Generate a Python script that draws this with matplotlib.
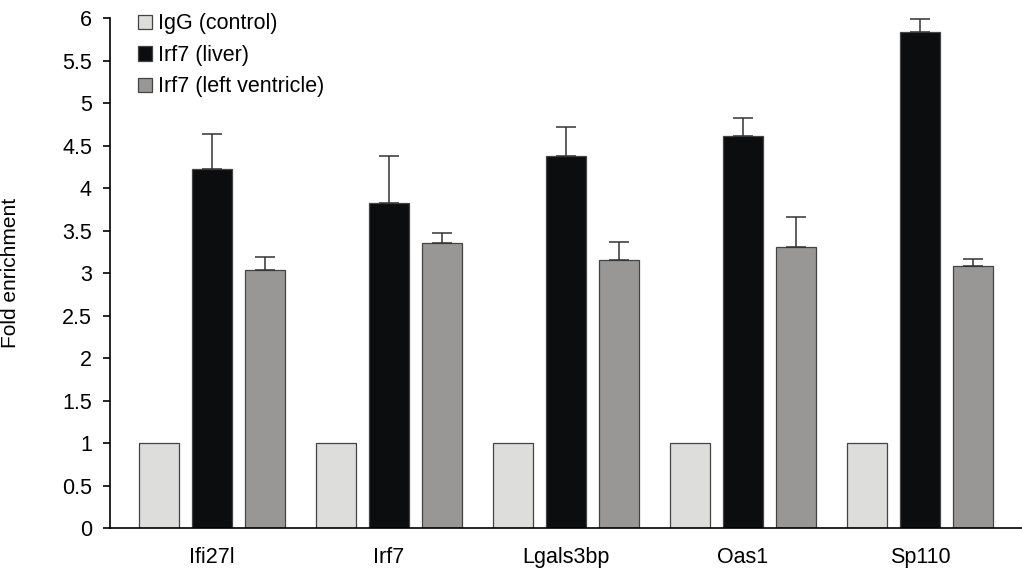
import numpy as np
import matplotlib.pyplot as plt

plt.rcParams['font.family'] = ['Liberation Sans', 'DejaVu Sans']

genes = ['Ifi27l', 'Irf7', 'Lgals3bp', 'Oas1', 'Sp110']
series = ['IgG (control)', 'Irf7 (liver)', 'Irf7 (left ventricle)']

igg = [1, 1, 1, 1, 1]
liver = [4.22, 3.82, 4.38, 4.61, 5.84]
liver_err = [0.41, 0.56, 0.34, 0.21, 0.15]
ventricle = [3.03, 3.35, 3.15, 3.31, 3.08]
ventricle_err = [0.16, 0.12, 0.21, 0.35, 0.08]

colors = ['#dddddc', '#0c0d0f', '#989795']

fig = plt.figure(figsize=(10.22, 5.68), dpi=100)
ax = fig.add_axes([0.1076, 0.0704, 0.8924, 0.8979])

x = np.arange(len(genes))
w = 0.226
off = 0.299
err_kw = dict(ecolor='#333333', elinewidth=1.1, capsize=7, capthick=1.1)

ax.bar(x - off, igg, w, color=colors[0], edgecolor='#444444', linewidth=0.9, label=series[0])
ax.bar(x, liver, w, color=colors[1], edgecolor='#444444', linewidth=0.9, label=series[1],
       yerr=[np.zeros(len(x)), liver_err], error_kw=err_kw)
ax.bar(x + off, ventricle, w, color=colors[2], edgecolor='#444444', linewidth=0.9, label=series[2],
       yerr=[np.zeros(len(x)), ventricle_err], error_kw=err_kw)

ax.set_xlim(-0.576, 4.576)
ax.set_ylim(0, 6)
ticks = np.arange(0, 6.01, 0.5)
ax.set_yticks(ticks)
ax.set_yticklabels(['%g' % t for t in ticks], fontsize=15.5)
ax.set_xticks(x)
ax.set_xticklabels(genes, fontsize=15.5)
ax.tick_params(axis='x', length=0, pad=14)
ax.tick_params(axis='y', direction='out', length=5, width=1.2, pad=8)

for s in ['top', 'right']:
    ax.spines[s].set_visible(False)
for s in ['left', 'bottom']:
    ax.spines[s].set_linewidth(1.2)

ax.set_ylabel('Fold enrichment', fontsize=15)
ax.yaxis.set_label_coords(-0.099, 0.5)

ax.legend(loc='upper left', bbox_to_anchor=(0.021, 1.026), frameon=False, fontsize=15.5,
          handlelength=0.65, handleheight=0.65, handletextpad=0.28, labelspacing=0.49,
          borderaxespad=0)

fig.savefig('out.png', dpi=100)
